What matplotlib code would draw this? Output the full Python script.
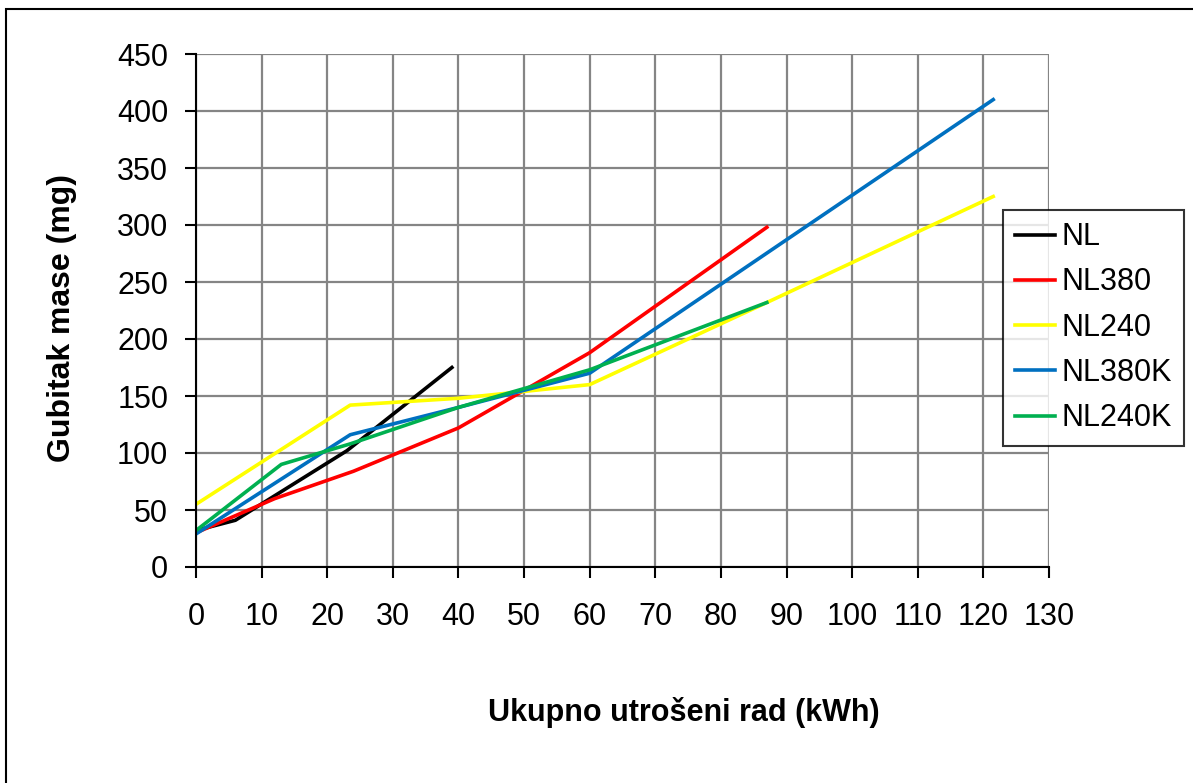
import matplotlib.pyplot as plt
from matplotlib.patches import Rectangle

plt.rcParams['font.family'] = ['Liberation Sans', 'DejaVu Sans']

# data
nl_x = [0, 6, 23, 39]
nl_y = [32, 41, 102, 175]

nl380_x = [0, 12, 24, 40, 60, 87]
nl380_y = [30, 60, 84, 122, 188, 298]

nl240_x = [0, 23.5, 40, 60, 87, 121.5]
nl240_y = [55, 142, 148, 160, 232, 325]

nl380k_x = [0, 23.5, 40, 60, 121.5]
nl380k_y = [29, 116, 140, 170, 410]

nl240k_x = [0, 13, 23.5, 40, 60, 87]
nl240k_y = [32, 90, 108, 140, 173, 232]

W, H = 1193, 783
fig = plt.figure(figsize=(W / 100, H / 100), dpi=100)
ax = fig.add_axes([196 / W, 1 - 567 / H, (1049 - 196) / W, (567 - 54) / H])

lw = 2.6
ax.plot(nl_x, nl_y, color='black', lw=lw, label='NL')
ax.plot(nl380_x, nl380_y, color='#ff0000', lw=lw, label='NL380')
ax.plot(nl240_x, nl240_y, color='#ffff00', lw=lw, label='NL240')
ax.plot(nl380k_x, nl380k_y, color='#0070c0', lw=lw, label='NL380K')
ax.plot(nl240k_x, nl240k_y, color='#00b050', lw=lw, label='NL240K')

ax.set_xlim(0, 130)
ax.set_ylim(0, 450)
ax.set_xticks(range(0, 131, 10))
ax.set_yticks(range(0, 451, 50))
ax.grid(True, color='#858585', lw=1.6)
ax.set_axisbelow(True)
for s in ['top', 'right']:
    ax.spines[s].set_visible(False)
for s in ['left', 'bottom']:
    ax.spines[s].set_color('black')
    ax.spines[s].set_linewidth(1.5)
ax.tick_params(axis='both', direction='out', length=8, width=1.5, labelsize=22)
ax.tick_params(axis='x', pad=17)
ax.tick_params(axis='y', pad=12)

fig.text(684 / W, 1 - 712 / H, 'Ukupno utrošeni rad (kWh)', ha='center', va='center',
         fontsize=22, fontweight='bold')
fig.text(62 / W, 1 - 318 / H, 'Gubitak mase (mg)', ha='center', va='center',
         rotation=90, fontsize=23, fontweight='bold')

leg = fig.legend(loc='upper left', bbox_to_anchor=(1003 / W, 1 - 210 / H),
                 fontsize=22, frameon=True, fancybox=False, handlelength=1.3,
                 handletextpad=0.2, labelspacing=0.5, borderpad=0.4, borderaxespad=0)
leg.get_frame().set_edgecolor('black')
leg.get_frame().set_linewidth(1.5)

fig.patches.append(Rectangle((6 / W, -0.1), 1.2, 1 - 9 / H + 0.1, transform=fig.transFigure,
                             fill=False, edgecolor='black', lw=1.5))

fig.savefig('out.png', dpi=100)
